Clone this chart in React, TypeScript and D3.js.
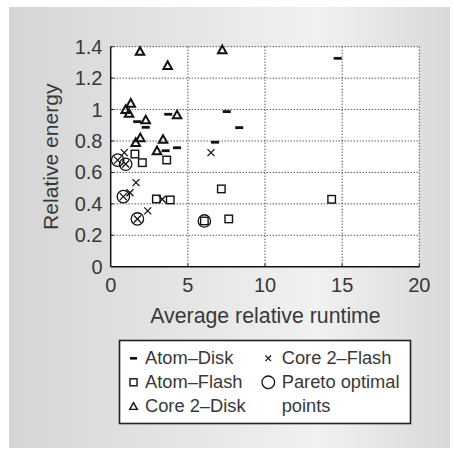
import React from "react";
import * as d3 from "d3";

const atomDiskX = [14.71, 7.52, 8.33, 6.76, 3.73, 1.72, 2.27, 3.56, 4.3];
const atomDiskY = [1.326, 0.987, 0.885, 0.792, 0.97, 0.923, 0.887, 0.738, 0.757];

const atomFlashX = [1.57, 2.05, 3.63, 7.17, 2.96, 3.86, 14.32, 7.65, 6.07];
const atomFlashY = [0.717, 0.662, 0.679, 0.495, 0.431, 0.425, 0.429, 0.304, 0.291];

const core2DiskX = [1.9, 7.23, 3.69, 1.3, 0.97, 1.19, 2.27, 4.3, 1.62, 1.92, 3.39, 3.0];
const core2DiskY = [1.37, 1.38, 1.28, 1.04, 1.0, 0.976, 0.934, 0.966, 0.79, 0.82, 0.81, 0.738];

const core2FlashX = [0.88, 0.45, 0.97, 6.5, 1.64, 1.25, 0.82, 3.34, 2.4, 1.73];
const core2FlashY = [0.726, 0.678, 0.654, 0.726, 0.535, 0.471, 0.446, 0.429, 0.355, 0.304];

const paretoX = [0.45, 0.97, 0.82, 1.73, 6.07];
const paretoY = [0.678, 0.652, 0.446, 0.304, 0.291];

const xTicks = [0, 5, 10, 15, 20];
const yTicks = [0, 0.2, 0.4, 0.6, 0.8, 1, 1.2, 1.4];

const W = 453;
const H = 449;
const left = 110.7;
const right = 419.3;
const top = 46.7;
const bottom = 266.7;
const FONT = "'Liberation Sans', Arial, Helvetica, sans-serif";
const TXT = "#383838";

const x = d3.scaleLinear().domain([0, 20]).range([left, right]);
const y = d3.scaleLinear().domain([0, 1.4]).range([bottom, top]);

const Dash = ({ cx, cy, w = 8, h = 2.8 }: any) => (
  <rect x={cx - w / 2} y={cy - h / 2} width={w} height={h} fill="#111" />
);
const Square = ({ cx, cy, s = 7.5 }: any) => (
  <rect x={cx - s / 2} y={cy - s / 2} width={s} height={s} fill="none" stroke="#111" strokeWidth={1.4} />
);
const Tri = ({ cx, cy, s = 8.5, sw = 2 }: any) => {
  const h = s * 0.9;
  const p = `${cx},${cy - h * 0.55} ${cx + s / 2},${cy + h * 0.45} ${cx - s / 2},${cy + h * 0.45}`;
  return <polygon points={p} fill="none" stroke="#111" strokeWidth={sw} strokeLinejoin="miter" />;
};
const Cross = ({ cx, cy, s = 3.5, sw = 1.3 }: any) => (
  <path
    d={`M${cx - s},${cy - s}L${cx + s},${cy + s}M${cx - s},${cy + s}L${cx + s},${cy - s}`}
    stroke="#111"
    strokeWidth={sw}
  />
);
const Circ = ({ cx, cy, r = 6.2 }: any) => (
  <circle cx={cx} cy={cy} r={r} fill="none" stroke="#111" strokeWidth={1.3} />
);

export default function App() {
  const ad = atomDiskX.map((v, i) => [x(v), y(atomDiskY[i])]);
  const af = atomFlashX.map((v, i) => [x(v), y(atomFlashY[i])]);
  const cd = core2DiskX.map((v, i) => [x(v), y(core2DiskY[i])]);
  const cf = core2FlashX.map((v, i) => [x(v), y(core2FlashY[i])]);
  const po = paretoX.map((v, i) => [x(v), y(paretoY[i])]);

  const rows = [364.3, 388.3, 412.3];
  const mOff = 6;

  return (
    <div style={{ position: "absolute", left: 0, top: 0 }}>
      <svg width={W} height={H} style={{ display: "block" }}>
        <defs>
          <linearGradient id="bg" x1="0" y1="0" x2="1" y2="0">
            <stop offset="0" stopColor="#d5d5d5" />
            <stop offset="0.7" stopColor="#f1f1f1" />
            <stop offset="1" stopColor="#d9d9d9" />
          </linearGradient>
        </defs>
        <rect x={0} y={0} width={W} height={H} fill="#fff" />
        <rect x={9} y={7} width={441} height={441} fill="url(#bg)" />
        <rect x={left} y={top} width={right - left} height={bottom - top} fill="#fff" />

        {/* grid */}
        {xTicks.slice(1).map((t) => (
          <line key={"gx" + t} x1={x(t)} x2={x(t)} y1={top} y2={bottom} stroke="#111" strokeWidth={1} strokeDasharray="1,2" />
        ))}
        {yTicks.slice(1).map((t) => (
          <line key={"gy" + t} x1={left} x2={right} y1={y(t)} y2={y(t)} stroke="#111" strokeWidth={1} strokeDasharray="1,2" />
        ))}
        {/* ticks inward */}
        {yTicks.slice(1).map((t) => (
          <line key={"ty" + t} x1={left} x2={left + 3} y1={y(t)} y2={y(t)} stroke="#111" strokeWidth={1} />
        ))}
        {xTicks.slice(1).map((t) => (
          <line key={"tx" + t} x1={x(t)} x2={x(t)} y1={bottom} y2={bottom - 3} stroke="#111" strokeWidth={1} />
        ))}
        {/* axes */}
        <line x1={left} x2={left} y1={top} y2={bottom} stroke="#111" strokeWidth={1.5} />
        <line x1={left} x2={right} y1={bottom} y2={bottom} stroke="#111" strokeWidth={1.5} />

        {/* tick labels */}
        {xTicks.map((t) => (
          <text key={"lx" + t} x={x(t)} y={291.7} textAnchor="middle" fontFamily={FONT} fontSize={20} fill={TXT}>
            {t}
          </text>
        ))}
        {yTicks.map((t) => (
          <text key={"ly" + t} x={102.5} y={y(t) + 7} textAnchor="end" fontFamily={FONT} fontSize={20} fill={TXT}>
            {d3.format("~g")(t)}
          </text>
        ))}

        {/* axis titles */}
        <text x={265.5} y={323.3} textAnchor="middle" fontFamily={FONT} fontSize={21.3} fill={TXT}>
          Average relative runtime
        </text>
        <text
          transform={`translate(58,156.7) rotate(-90)`}
          textAnchor="middle"
          fontFamily={FONT}
          fontSize={21.1}
          fill={TXT}
        >
          Relative energy
        </text>

        {/* data */}
        {af.map(([cx, cy], i) => <Square key={"af" + i} cx={cx} cy={cy} />)}
        {cd.map(([cx, cy], i) => <Tri key={"cd" + i} cx={cx} cy={cy} />)}
        {ad.map(([cx, cy], i) => <Dash key={"ad" + i} cx={cx} cy={cy} />)}
        {cf.map(([cx, cy], i) => <Cross key={"cf" + i} cx={cx} cy={cy} />)}
        {po.map(([cx, cy], i) => <Circ key={"po" + i} cx={cx} cy={cy} />)}

        {/* legend */}
        <rect x={119.5} y={340.5} width={291} height={83} fill="#fff" stroke="#222" strokeWidth={1.6} />
        <Dash cx={133.5} cy={rows[0] - mOff} w={7} h={2.6} />
        <Square cx={133.5} cy={rows[1] - mOff} s={7} />
        <Tri cx={133.5} cy={rows[2] - mOff} s={7.5} sw={1.4} />
        <Cross cx={268.3} cy={rows[0] - mOff} s={2.8} sw={1.1} />
        <Circ cx={268.3} cy={rows[1] - mOff} r={6.3} />
        {[["Atom–Disk", 0], ["Atom–Flash", 1], ["Core 2–Disk", 2]].map(([s, i]: any) => (
          <text key={s} x={145} y={rows[i]} fontFamily={FONT} fontSize={18.3} fill={TXT}>
            {s}
          </text>
        ))}
        {[["Core 2–Flash", 0], ["Pareto optimal", 1], ["points", 2]].map(([s, i]: any) => (
          <text key={s} x={281.7} y={rows[i]} fontFamily={FONT} fontSize={18.3} fill={TXT}>
            {s}
          </text>
        ))}
      </svg>
    </div>
  );
}
